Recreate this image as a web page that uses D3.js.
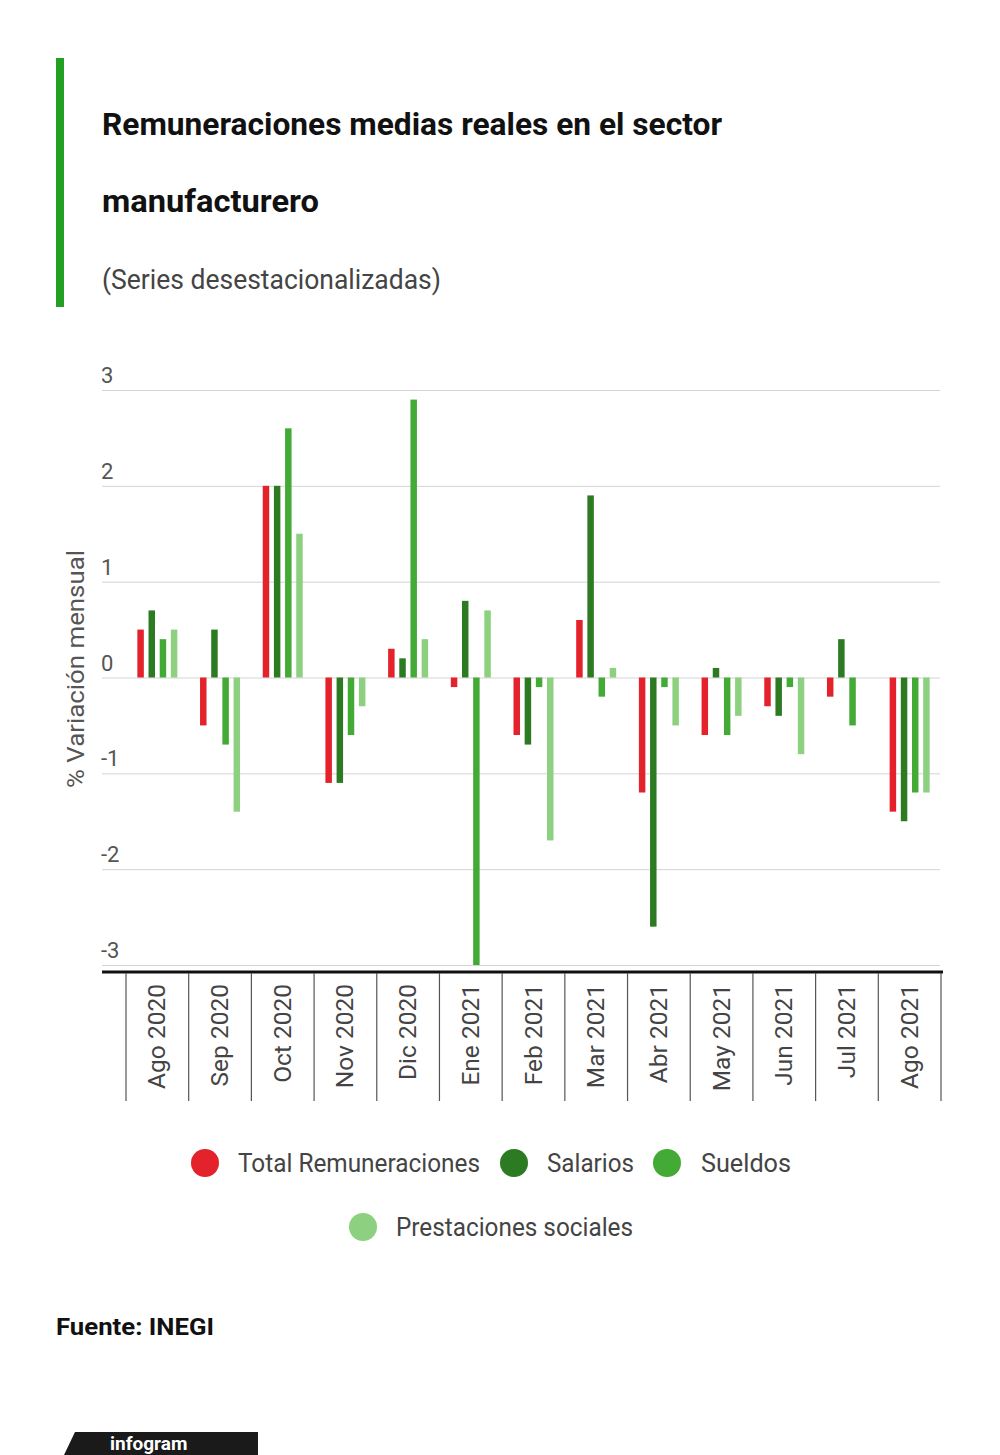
<!DOCTYPE html>
<html><head><meta charset="utf-8">
<script src="https://cdn.jsdelivr.net/npm/d3@7"></script>
<style>
html,body{margin:0;padding:0;background:#fff;}
svg{display:block;font-family:Roboto, "Liberation Sans", sans-serif;}
</style></head>
<body>
<svg id="chart" width="1000" height="1455"></svg>
<script>
const months = ["Ago 2020","Sep 2020","Oct 2020","Nov 2020","Dic 2020","Ene 2021","Feb 2021","Mar 2021","Abr 2021","May 2021","Jun 2021","Jul 2021","Ago 2021"];
const seriesNames = ["Total Remuneraciones","Salarios","Sueldos","Prestaciones sociales"];
const totalRemuneraciones = [0.5,-0.5,2.0,-1.1,0.3,-0.1,-0.6,0.6,-1.2,-0.6,-0.3,-0.2,-1.4];
const salarios            = [0.7,0.5,2.0,-1.1,0.2,0.8,-0.7,1.9,-2.6,0.1,-0.4,0.4,-1.5];
const sueldos             = [0.4,-0.7,2.6,-0.6,2.9,-3.0,-0.1,-0.2,-0.1,-0.6,-0.1,-0.5,-1.2];
const prestaciones        = [0.5,-1.4,1.5,-0.3,0.4,0.7,-1.7,0.1,-0.5,-0.4,-0.8,0.0,-1.2];
const yTicks = [3,2,1,0,-1,-2,-3];
const colors = ["#e3222b","#2c7b22","#44aa36","#8dd07f"];

const seriesValues = [totalRemuneraciones, salarios, sueldos, prestaciones];
const svg = d3.select("#chart");

// Header
svg.append("rect").attr("x",56).attr("y",58).attr("width",8).attr("height",249).attr("fill","#23a023");
svg.append("text").attr("x",102).attr("y",135).attr("font-size",31).attr("font-weight",700).attr("fill","#111")
  .attr("textLength",620).attr("lengthAdjust","spacingAndGlyphs").text("Remuneraciones medias reales en el sector");
svg.append("text").attr("x",102).attr("y",212).attr("font-size",31).attr("font-weight",700).attr("fill","#111")
  .attr("textLength",217).attr("lengthAdjust","spacingAndGlyphs").text("manufacturero");
svg.append("text").attr("x",102).attr("y",289).attr("font-size",28).attr("fill","#444")
  .attr("textLength",339).attr("lengthAdjust","spacingAndGlyphs").text("(Series desestacionalizadas)");

// Scales
const x = d3.scaleBand().domain(months).range([126,941]).paddingInner(0).paddingOuter(0);
const y = d3.scaleLinear().domain([-3,3]).range([965,390]);
const xs = d3.scaleBand().domain(seriesNames).range([0,40]).paddingInner(0.42);

// Grid
const grid = svg.append("g").attr("transform","translate(102,0)")
  .call(d3.axisLeft(y).tickValues(yTicks).tickSize(-838).tickFormat(""));
grid.select(".domain").remove();
grid.selectAll(".tick line").attr("stroke","#d4d4d4").attr("stroke-width",1);

// Y tick labels
svg.append("g").selectAll("text").data(yTicks).join("text")
  .attr("x",101).attr("y",d=>y(d)-7).attr("font-size",22).attr("fill","#555")
  .text(d=>d);

// Y axis title
svg.append("text").attr("transform","translate(84,669) rotate(-90)").attr("text-anchor","middle")
  .attr("font-size",24).attr("fill","#555").attr("textLength",238).attr("lengthAdjust","spacingAndGlyphs")
  .text("% Variación mensual");

// Bars
const data = [];
months.forEach((m,i)=>seriesNames.forEach((s,j)=>data.push({m,s,v:seriesValues[j][i],c:colors[j]})));
const groupOffset = (x.bandwidth()-40)/2;
svg.append("g").selectAll("rect").data(data).join("rect")
  .attr("x",d=>x(d.m)+groupOffset+xs(d.s))
  .attr("width",xs.bandwidth())
  .attr("y",d=>Math.min(y(d.v),y(0)))
  .attr("height",d=>Math.abs(y(d.v)-y(0)))
  .attr("fill",d=>d.c);

// X axis
svg.append("line").attr("x1",102).attr("x2",943).attr("y1",972).attr("y2",972).attr("stroke","#111").attr("stroke-width",3);
const bounds = months.map(m=>x(m)).concat([x(months[months.length-1])+x.bandwidth()]);
svg.append("g").selectAll("line").data(bounds).join("line")
  .attr("x1",d=>d).attr("x2",d=>d).attr("y1",973).attr("y2",1101).attr("stroke","#555").attr("stroke-width",1.2);
svg.append("g").selectAll("text").data(months).join("text")
  .attr("transform",d=>`translate(${x(d)+x.bandwidth()/2+8},984) rotate(-90)`)
  .attr("text-anchor","end").attr("font-size",24.5).attr("fill","#444").text(d=>d);

// Legend
const legendItems = [
  {name:seriesNames[0], c:colors[0], cx:205, cy:1163, tx:238, w:242},
  {name:seriesNames[1], c:colors[1], cx:514, cy:1163, tx:547, w:87},
  {name:seriesNames[2], c:colors[2], cx:667, cy:1163, tx:701, w:90},
  {name:seriesNames[3], c:colors[3], cx:363, cy:1227, tx:396, w:237}
];
const lg = svg.append("g");
lg.selectAll("circle").data(legendItems).join("circle")
  .attr("cx",d=>d.cx).attr("cy",d=>d.cy).attr("r",14).attr("fill",d=>d.c);
lg.selectAll("text").data(legendItems).join("text")
  .attr("x",d=>d.tx).attr("y",d=>d.cy+9).attr("font-size",26).attr("fill","#444")
  .attr("textLength",d=>d.w).attr("lengthAdjust","spacingAndGlyphs").text(d=>d.name);

// Source
svg.append("text").attr("x",56).attr("y",1335).attr("font-size",24).attr("font-weight",700).attr("fill","#111")
  .attr("textLength",158).attr("lengthAdjust","spacingAndGlyphs").text("Fuente: INEGI");

// Infogram badge
svg.append("path").attr("d","M75,1432 L258,1432 L258,1455 L64,1455 Z").attr("fill","#1a1a1a");
svg.append("text").attr("x",110).attr("y",1450).attr("font-size",19).attr("font-weight",700).attr("fill","#fff").text("infogram");
</script>
</body></html>
